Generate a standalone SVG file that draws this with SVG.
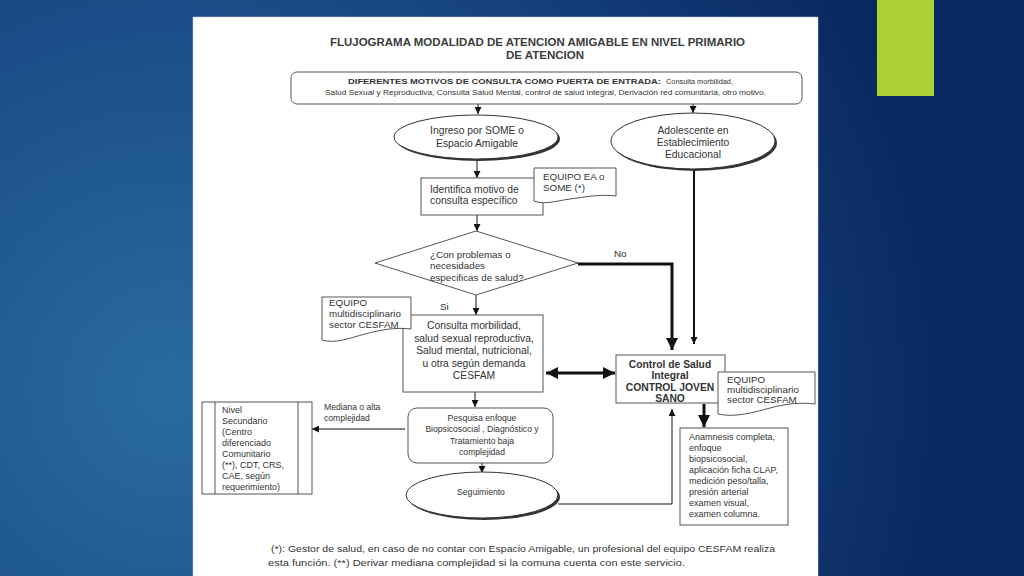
<svg xmlns="http://www.w3.org/2000/svg" width="1024" height="576" viewBox="0 0 1024 576">
<defs>
<radialGradient id="bg" cx="170" cy="390" r="780" gradientUnits="userSpaceOnUse">
<stop offset="0" stop-color="#2a6b9e"/>
<stop offset="0.5" stop-color="#1a4c88"/>
<stop offset="1" stop-color="#0a2862"/>
</radialGradient>
<marker id="a" viewBox="0 0 10 10" refX="10" refY="5" markerWidth="7" markerHeight="7" markerUnits="userSpaceOnUse" orient="auto-start-reverse"><path d="M0,0 L10,5 L0,10 z" fill="#111"/></marker>
<marker id="ab" viewBox="0 0 10 10" refX="10" refY="5" markerWidth="14" markerHeight="12" markerUnits="userSpaceOnUse" orient="auto-start-reverse"><path d="M0,0 L10,5 L0,10 z" fill="#111"/></marker>
<style>
text{font-family:"Liberation Sans",Arial,sans-serif;fill:#333;font-size:10.3px}
.b{font-weight:bold}
.c{text-anchor:middle}
.d{font-size:9.8px}
.s{font-size:8.6px}
.n{font-size:9px}
.box{fill:#fff;stroke:#555;stroke-width:1}
.sh{fill:#333}
.ln{fill:none;stroke:#111;stroke-width:1}
.th{fill:none;stroke:#111;stroke-width:3}
</style>
</defs>
<rect width="1024" height="576" fill="url(#bg)"/>
<rect x="877" y="0" width="57" height="96" fill="#abd135"/>
<rect x="193" y="17" width="625" height="560" fill="#fff" stroke="#ccc" stroke-width="0.5"/>

<g id="title">
<text x="330" y="46" class="b" style="font-size:11.5px;fill:#3c3c3c" textLength="415" lengthAdjust="spacingAndGlyphs">FLUJOGRAMA MODALIDAD DE ATENCION AMIGABLE EN NIVEL PRIMARIO</text>
<text x="545" y="59" class="b c" style="font-size:11.5px;fill:#3c3c3c">DE ATENCION</text>
</g>

<g id="connectors">
<path class="ln" d="M478,104 V114" marker-end="url(#a)"/>
<path class="ln" d="M693,104 V113" marker-end="url(#a)"/>
<path class="ln" d="M477,160 V178" marker-end="url(#a)"/>
<path class="ln" d="M477,215 V231" marker-end="url(#a)"/>
<path class="th" d="M578,264 H672 V350" marker-end="url(#ab)"/>
<path class="ln" style="stroke-width:2" d="M694,169 V344" marker-end="url(#a)"/>
<path class="ln" d="M476,295 V315" marker-end="url(#a)"/>
<path class="th" d="M546,373 H615" marker-start="url(#ab)" marker-end="url(#ab)"/>
<path class="ln" d="M475,392 V407" marker-end="url(#a)"/>
<path class="ln" d="M405,429 H312" marker-end="url(#a)"/>
<path class="ln" d="M482,463 V473" marker-end="url(#a)"/>
<path class="ln" d="M558,504 H672 V409" marker-end="url(#a)"/>
<path class="th" d="M704,404 V427" marker-end="url(#ab)"/>
<text x="614" y="257" class="d">No</text>
<text x="440" y="310" class="d">Si</text>
<text x="324" y="410" class="s">Mediana o alta</text>
<text x="324" y="421" class="s">complejidad</text>
</g>

<g id="entrada">
<rect x="291" y="72" width="511" height="32" rx="6" class="box"/>
<text y="84" style="font-size:7.5px"><tspan x="348" class="b" textLength="313" lengthAdjust="spacingAndGlyphs">DIFERENTES MOTIVOS DE CONSULTA COMO PUERTA DE ENTRADA:</tspan><tspan x="666" textLength="67" lengthAdjust="spacingAndGlyphs">Consulta morbilidad,</tspan></text>
<text x="325" y="95" style="font-size:7px" textLength="441" lengthAdjust="spacingAndGlyphs">Salud Sexual y Reproductiva, Consulta Salud Mental, control de salud integral, Derivación red comunitaria, otro motivo.</text>
</g>

<g id="ingreso">
<ellipse cx="478" cy="139" rx="82" ry="22" class="sh"/>
<ellipse cx="476" cy="137" rx="82" ry="22" fill="#fff" stroke="#333"/>
<text x="477" y="134" class="c">Ingreso  por SOME o</text>
<text x="477" y="147" class="c">Espacio Amigable</text>
</g>

<g id="adolescente">
<ellipse cx="695" cy="143" rx="82" ry="28" class="sh"/>
<ellipse cx="693" cy="141" rx="82" ry="28" fill="#fff" stroke="#333"/>
<text x="693" y="134" class="c">Adolescente en</text>
<text x="693" y="146" class="c">Establecimiento</text>
<text x="693" y="158" class="c">Educacional</text>
</g>

<g id="identifica">
<rect x="421" y="178" width="122" height="37" class="box"/>
<text x="430" y="193">Identifica motivo de</text>
<text x="430" y="204">consulta específico</text>
</g>

<g id="equipo-ea">
<path class="box" d="M534,168 H616 V196 C600,194 585,197 570,199 C555,201 545,205 534,201 Z"/>
<text x="543" y="180" class="d">EQUIPO EA  o</text>
<text x="543" y="191" class="d">SOME (*)</text>
</g>

<g id="decision">
<polygon class="box" points="375,263 476,231 578,263 476,295"/>
<text x="430" y="258" class="d">¿Con problemas o</text>
<text x="430" y="269" class="d">necesidades</text>
<text x="430" y="281" class="d">especificas de salud?</text>
</g>

<g id="consulta">
<rect x="403" y="315" width="140" height="77" class="box"/>
<text x="474" y="329" class="c">Consulta morbilidad,</text>
<text x="474" y="341.5" class="c">salud sexual reproductiva,</text>
<text x="474" y="354" class="c">Salud mental, nutricional,</text>
<text x="474" y="366.5" class="c">u otra según demanda</text>
<text x="474" y="379" class="c">CESFAM</text>
</g>

<g id="equipo-cesfam-izq">
<path class="box" d="M322,297 H411 V329 C395,327 380,330 365,334 C350,338 335,344 322,340 Z"/>
<text x="329" y="306" class="d">EQUIPO</text>
<text x="329" y="317" class="d">multidisciplinario</text>
<text x="329" y="328" class="d">sector CESFAM</text>
</g>

<g id="control">
<rect x="616" y="355" width="109" height="48" class="box"/>
<text x="670" y="367.5" class="b c">Control de Salud</text>
<text x="670" y="379" class="b c">Integral</text>
<text x="670" y="390.5" class="b c">CONTROL JOVEN</text>
<text x="670" y="402" class="b c">SANO</text>
</g>

<g id="equipo-cesfam-der">
<path class="box" d="M718,372 H815 V404 C800,402 785,404 770,408 C755,412 735,418 718,414 Z"/>
<text x="727" y="383" class="d">EQUIPO</text>
<text x="727" y="393" class="d">multidisciplinario</text>
<text x="727" y="403" class="d">sector CESFAM</text>
</g>

<g id="anamnesis">
<rect x="680" y="428" width="108" height="97" class="box"/>
<text x="689" y="440" class="n">Anamnesis completa,</text>
<text x="689" y="451" class="n">enfoque</text>
<text x="689" y="462" class="n">biopsicosocial,</text>
<text x="689" y="473" class="n">aplicación ficha CLAP,</text>
<text x="689" y="484" class="n">medición peso/talla,</text>
<text x="689" y="495" class="n">presión arterial</text>
<text x="689" y="506" class="n">examen visual,</text>
<text x="689" y="517" class="n">examen columna.</text>
</g>

<g id="pesquisa">
<rect x="408" y="408" width="145" height="55" rx="9" class="box"/>
<text x="482" y="421" class="c s">Pesquisa enfoque</text>
<text x="482" y="432" class="c s">Biopsicosocial , Diagnóstico y</text>
<text x="482" y="444" class="c s">Tratamiento baja</text>
<text x="482" y="455" class="c s">complejidad</text>
</g>

<g id="nivel-secundario">
<rect x="202" y="402" width="110" height="92" class="box"/>
<path class="ln" style="stroke:#555" d="M215,402 V494 M298,402 V494"/>
<text x="222" y="413" class="n">Nivel</text>
<text x="222" y="424" class="n">Secundario</text>
<text x="222" y="435" class="n">(Centro</text>
<text x="222" y="446" class="n">diferenciado</text>
<text x="222" y="457" class="n">Comunitario</text>
<text x="222" y="468" class="n">(**), CDT, CRS,</text>
<text x="222" y="479" class="n">CAE, según</text>
<text x="222" y="490" class="n">requerimiento)</text>
</g>

<g id="seguimiento">
<ellipse cx="484" cy="497" rx="76" ry="23" class="sh"/>
<ellipse cx="482" cy="495" rx="76" ry="23" fill="#fff" stroke="#333"/>
<text x="481" y="495" class="c s">Seguimiento</text>
</g>

<g id="nota">
<text x="271" y="552" style="font-size:9px" textLength="504" lengthAdjust="spacingAndGlyphs">(*): Gestor de salud, en caso de no contar con Espacio Amigable, un profesional del equipo CESFAM realiza</text>
<text x="268" y="566" style="font-size:9px" textLength="417" lengthAdjust="spacingAndGlyphs">esta función. (**) Derivar mediana complejidad si la comuna cuenta con este servicio.</text>
</g>
</svg>
